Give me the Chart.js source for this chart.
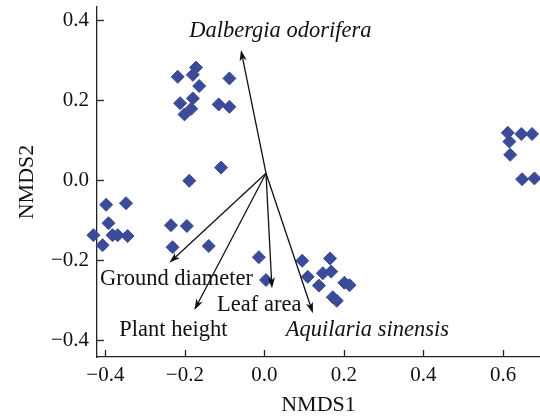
<!DOCTYPE html>
<html>
<head>
<meta charset="utf-8">
<script src="https://cdn.jsdelivr.net/npm/chart.js@4.4.1/dist/chart.umd.min.js"></script>
<style>
  html, body { margin: 0; padding: 0; background: #fff; }
  canvas { display: block; }
</style>
</head>
<body>
<canvas id="nmds" width="540" height="416"></canvas>
<script>
// site scores (NMDS1, NMDS2)
const siteX = [
  -0.398, -0.348, -0.392, -0.430, -0.382, -0.369, -0.344, -0.407,
  -0.218, -0.172, -0.180, -0.164, -0.088, -0.180, -0.212, -0.184, -0.201, -0.115, -0.088,
  -0.109, -0.189, -0.235, -0.195, -0.231, -0.140,
  -0.014, 0.004, 0.095, 0.165, 0.109, 0.147, 0.168, 0.137, 0.201, 0.214, 0.172, 0.182,
  0.612, 0.646, 0.673, 0.616, 0.618, 0.648, 0.679
];
const siteY = [
  -0.062, -0.058, -0.108, -0.138, -0.138, -0.138, -0.140, -0.163,
  0.258, 0.281, 0.263, 0.235, 0.254, 0.204, 0.192, 0.178, 0.164, 0.189, 0.183,
  0.031, -0.002, -0.113, -0.115, -0.168, -0.165,
  -0.193, -0.250, -0.202, -0.196, -0.242, -0.233, -0.229, -0.264, -0.257, -0.263, -0.293, -0.302,
  0.118, 0.115, 0.115, 0.096, 0.063, 0.002, 0.004
];

// fitted vectors
const vectorNames = ['Dalbergia odorifera', 'Ground diameter', 'Plant height', 'Leaf area', 'Aquilaria sinensis'];
const vectorX = [-0.059, -0.239, -0.176, 0.019, 0.122];
const vectorY = [0.325, -0.207, -0.325, -0.271, -0.333];
const vectorOrigin = [0.004, 0.017];

const xTicks = [-0.4, -0.2, 0.0, 0.2, 0.4, 0.6];
const yTicks = [-0.4, -0.2, 0.0, 0.2, 0.4];

const serif = '"Liberation Serif", "DejaVu Serif", serif';
const italicNames = ['Dalbergia odorifera', 'Aquilaria sinensis'];
// label centres in data units
const labelAnchor = {
  'Dalbergia odorifera': [0.040, 0.372],
  'Ground diameter': [-0.221, -0.248],
  'Plant height': [-0.229, -0.375],
  'Leaf area': [-0.013, -0.312],
  'Aquilaria sinensis': [0.259, -0.375]
};

const fmt = v => v.toFixed(1).replace('-', '\u2212');

const vectorPlugin = {
  id: 'vectors',
  afterDatasetsDraw(chart) {
    const { ctx, scales: { x, y } } = chart;
    const ox = x.getPixelForValue(vectorOrigin[0]);
    const oy = y.getPixelForValue(vectorOrigin[1]);
    ctx.save();
    ctx.strokeStyle = '#111';
    ctx.fillStyle = '#111';
    ctx.lineWidth = 1.3;
    vectorNames.forEach((name, i) => {
      const tx = x.getPixelForValue(vectorX[i]);
      const ty = y.getPixelForValue(vectorY[i]);
      const a = Math.atan2(ty - oy, tx - ox);
      const c = Math.cos(a), s = Math.sin(a);
      ctx.beginPath();
      ctx.moveTo(ox, oy);
      ctx.lineTo(tx - 7 * c, ty - 7 * s);
      ctx.stroke();
      ctx.beginPath();
      ctx.moveTo(tx, ty);
      ctx.lineTo(tx - 11 * c + 3.6 * s, ty - 11 * s - 3.6 * c);
      ctx.lineTo(tx - 8 * c, ty - 8 * s);
      ctx.lineTo(tx - 11 * c - 3.6 * s, ty - 11 * s + 3.6 * c);
      ctx.closePath();
      ctx.fill();

      const [lx, ly] = labelAnchor[name];
      ctx.font = (italicNames.includes(name) ? 'italic ' : '') + '22.5px ' + serif;
      ctx.textAlign = 'center';
      ctx.textBaseline = 'middle';
      ctx.fillText(name, x.getPixelForValue(lx), y.getPixelForValue(ly));
    });

    // inward tick marks
    ctx.strokeStyle = '#222';
    ctx.lineWidth = 1.3;
    xTicks.forEach(v => {
      const px = Math.round(x.getPixelForValue(v)) + 0.5;
      ctx.beginPath();
      ctx.moveTo(px, y.bottom);
      ctx.lineTo(px, y.bottom - 7);
      ctx.stroke();
    });
    yTicks.forEach(v => {
      const py = Math.round(y.getPixelForValue(v)) + 0.5;
      ctx.beginPath();
      ctx.moveTo(x.left, py);
      ctx.lineTo(x.left + 7, py);
      ctx.stroke();
    });
    ctx.restore();
  }
};

new Chart(document.getElementById('nmds'), {
  type: 'scatter',
  data: {
    datasets: [{
      data: siteX.map((v, i) => ({ x: v, y: siteY[i] })),
      pointStyle: 'rectRot',
      pointRadius: 6.5,
      pointHoverRadius: 6.5,
      backgroundColor: '#3b4b98',
      borderColor: '#3b4b98',
      borderWidth: 1,
      clip: false
    }]
  },
  options: {
    responsive: false,
    animation: false,
    events: [],
    layout: { autoPadding: false, padding: { top: 7, right: 0, left: 0, bottom: 0 } },
    plugins: { legend: { display: false }, tooltip: { enabled: false } },
    scales: {
      x: {
        type: 'linear',
        min: -0.421,
        max: 0.693,
        grid: { display: false, drawTicks: false },
        border: { display: true, color: '#222', width: 1.3 },
        ticks: {
          stepSize: 0.2,
          includeBounds: false,
          autoSkip: false,
          maxRotation: 0,
          padding: 6,
          color: '#111',
          font: { family: serif, size: 21 },
          callback: v => fmt(v)
        },
        title: {
          display: true,
          text: 'NMDS1',
          color: '#111',
          font: { family: serif, size: 22, lineHeight: 1 },
          padding: { top: 0, bottom: 0 }
        },
        afterFit: s => { s.height = 59; s.paddingLeft = 0; s.paddingRight = 0; }
      },
      y: {
        type: 'linear',
        min: -0.4425,
        max: 0.4325,
        grid: { display: false, drawTicks: false },
        border: { display: true, color: '#222', width: 1.3 },
        ticks: {
          stepSize: 0.2,
          includeBounds: false,
          autoSkip: false,
          padding: 8,
          color: '#111',
          font: { family: serif, size: 21 },
          callback: v => fmt(v)
        },
        title: {
          display: true,
          text: 'NMDS2',
          color: '#111',
          font: { family: serif, size: 22, lineHeight: 1 },
          padding: { top: 16, bottom: 0 }
        },
        afterFit: s => { s.width = 97; s.paddingTop = 0; s.paddingBottom = 0; }
      }
    }
  },
  plugins: [vectorPlugin]
});
</script>
</body>
</html>
